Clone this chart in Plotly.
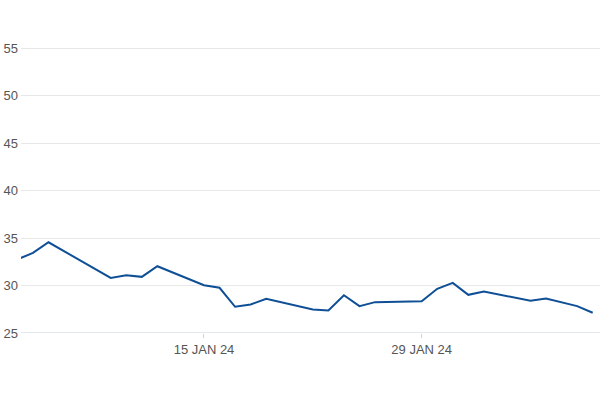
import plotly.graph_objects as go

dates = ["2024-01-03", "2024-01-04", "2024-01-05", "2024-01-09", "2024-01-10",
         "2024-01-11", "2024-01-12", "2024-01-15", "2024-01-16", "2024-01-17",
         "2024-01-18", "2024-01-19", "2024-01-22", "2024-01-23", "2024-01-24",
         "2024-01-25", "2024-01-26", "2024-01-29", "2024-01-30", "2024-01-31",
         "2024-02-01", "2024-02-02", "2024-02-05", "2024-02-06", "2024-02-08",
         "2024-02-09"]
values = [32.75, 33.43, 34.55, 30.80, 31.08,
          30.91, 32.03, 30.03, 29.76, 27.76,
          28.00, 28.60, 27.48, 27.37, 28.98,
          27.83, 28.25, 28.33, 29.65, 30.28,
          29.02, 29.37, 28.39, 28.63, 27.83,
          27.13]
tick_vals = ["2024-01-15", "2024-01-29"]
tick_text = ["15 JAN 24", "29 JAN 24"]
y_ticks = [25, 30, 35, 40, 45, 50, 55]

fig = go.Figure()
fig.add_trace(go.Scatter(x=dates, y=values, mode="lines",
                         line=dict(color="#0f4f96", width=2),
                         hoverinfo="skip"))

fig.update_layout(
    width=600, height=400,
    margin=dict(l=21, r=0, t=20, b=67),
    paper_bgcolor="white", plot_bgcolor="white",
    showlegend=False,
    font=dict(family="Liberation Sans, Arial, sans-serif", size=13, color="#555555"),
    xaxis=dict(
        type="date",
        automargin=False,
        range=["2024-01-03 05:32", "2024-02-09 11:16"],
        tickvals=tick_vals, ticktext=tick_text,
        showgrid=False, zeroline=False,
        showline=False,
        ticks="outside", ticklen=4, tickcolor="#c8d2e0",
        tickfont=dict(size=13, color="#555555"),
    ),
    yaxis=dict(
        automargin=False,
        range=[25, 57.95],
        tickvals=y_ticks,
        showgrid=True, gridcolor="#e8e8e8", gridwidth=1,
        zeroline=False, showline=False,
        ticks="", ticklabelstandoff=2,
        tickfont=dict(size=13, color="#555555"),
    ),
    shapes=[dict(type="line", xref="paper", yref="y", x0=0, x1=1, y0=25, y1=25,
                 line=dict(color="#c8d2e0", width=1), layer="below")],
)

fig.write_html("out.html", config={"displayModeBar": False},
               post_script="document.body.style.margin='0';")
